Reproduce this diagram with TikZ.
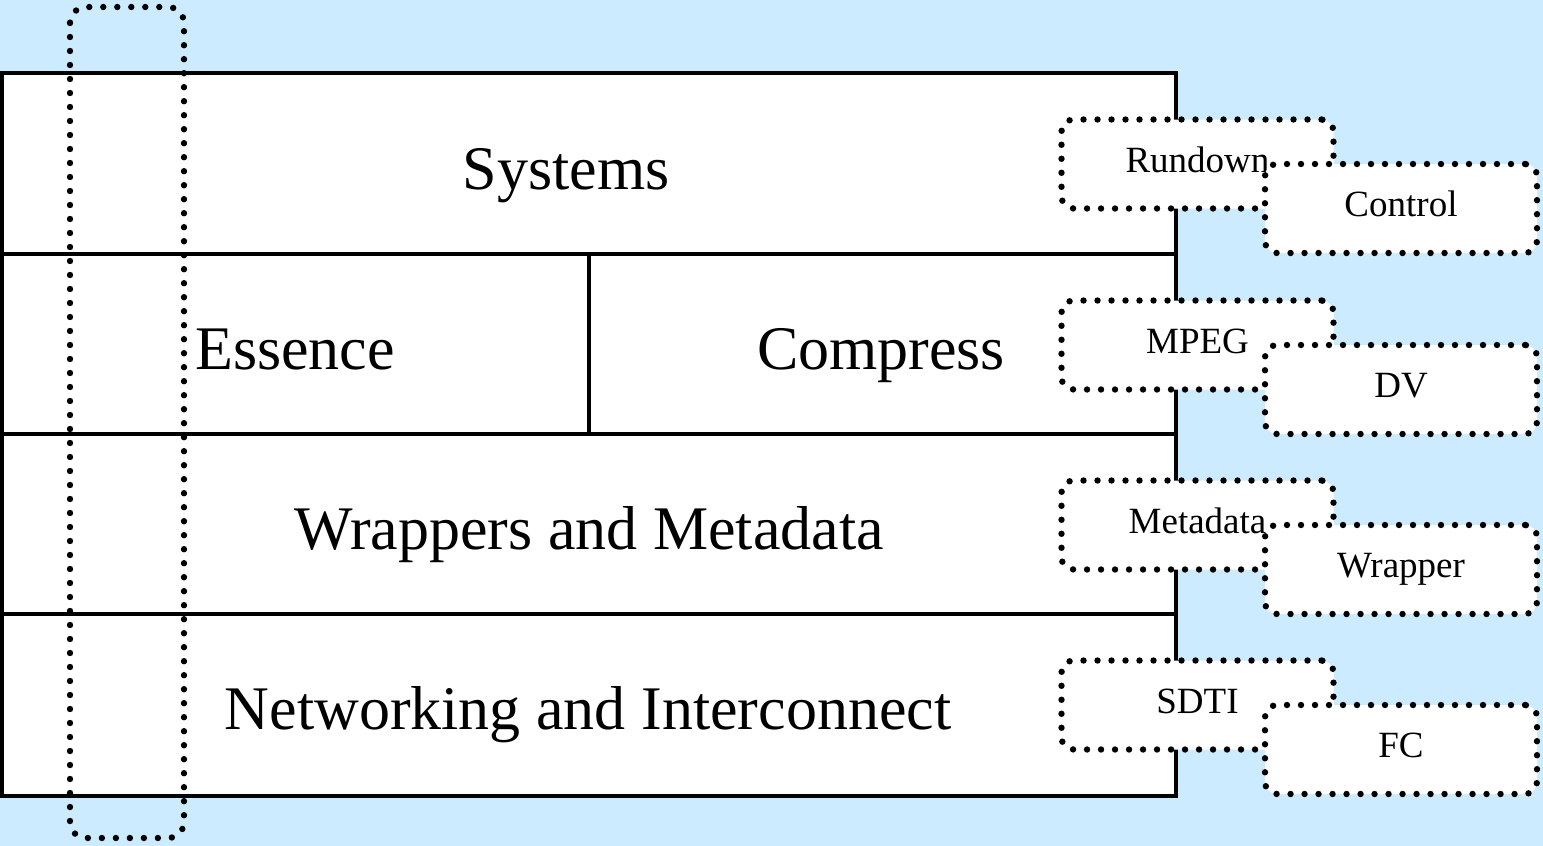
\documentclass[tikz,border=0pt]{standalone}
\usepackage{fontspec}
\setmainfont{Liberation Serif}
\definecolor{paleblue}{RGB}{204,235,255}

\begin{document}
\begin{tikzpicture}[x=0.5pt, y=-0.5pt, line join=miter,
    layer/.style={draw, fill=white, line width=2pt},
    big label/.style={anchor=base, inner sep=0pt, font=\fontsize{31}{36}\selectfont},
    dots/.style={line width=3.2pt, dash pattern=on 0pt off 7pt, line cap=round},
    tag node/.style={dots, draw, fill=white, rounded corners=6pt, minimum width=136pt, minimum height=44.5pt, inner sep=0pt, text height=12pt, text depth=4pt, font=\fontsize{18.5}{22}\selectfont}]
                \fill[paleblue] (0,0) rectangle (1543,846);

                % the four layers
                \draw[layer] (2,73) rectangle (1176,254);
                \draw[layer] (2,254) rectangle (1176,434);
                \draw[layer] (2,434) rectangle (1176,614);
                \draw[layer] (2,614) rectangle (1176,796);
                \draw[line width=2pt] (589,254) -- (589,434);

                \node[big label] (systems) at (566,189) {Systems};
                \node[big label] (essence) at (295,369) {Essence};
                \node[big label] (compress) at (881,369) {Compress};
                \node[big label] (wrappers) at (589,549) {Wrappers and Metadata};
                \node[big label] (network) at (588,729) {Networking and Interconnect};

                % column across all layers
                \draw[dots, rounded corners=8pt] (70,7) rectangle (184,838);

                % examples beside each layer
                \foreach \a/\b/\y in {Rundown/Control/164, MPEG/DV/345, Metadata/Wrapper/525, SDTI/FC/705} {
                    \node[tag node] (\a) at (1197.5,\y) {\a};
                    \node[tag node] (\b) at (1401,\y+44.5) {\b};
                }
\end{tikzpicture}
\end{document}
